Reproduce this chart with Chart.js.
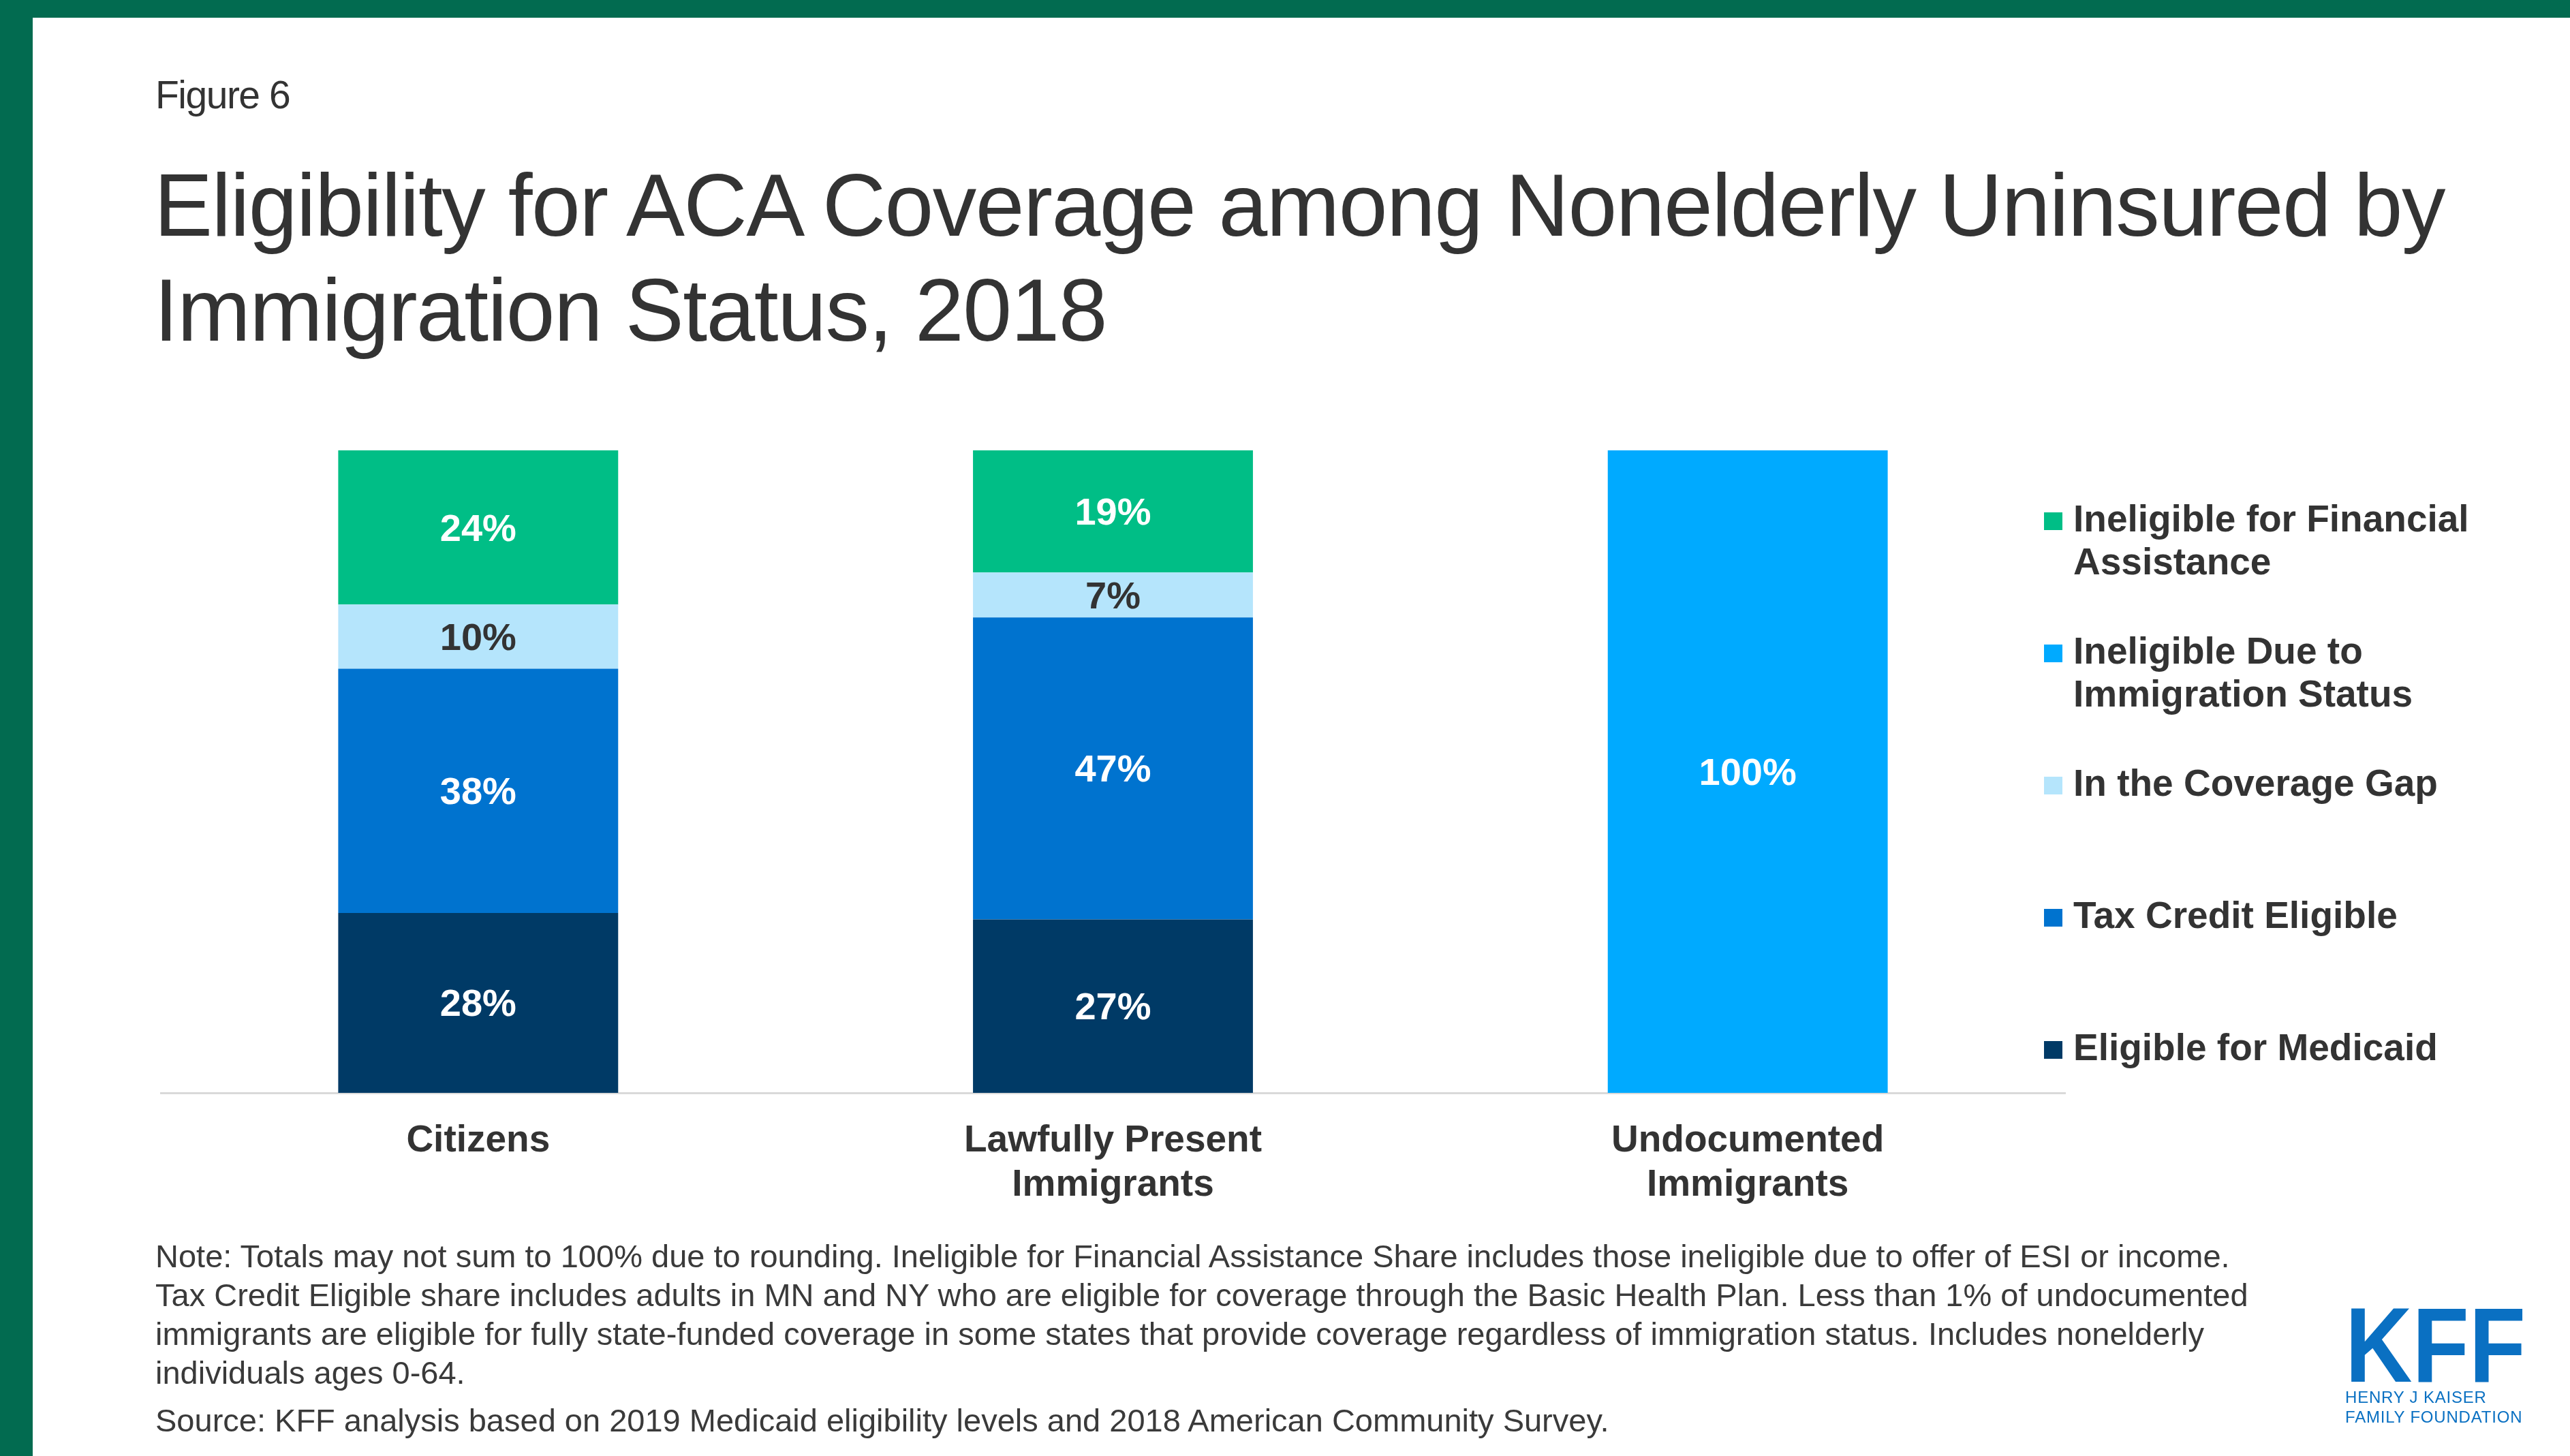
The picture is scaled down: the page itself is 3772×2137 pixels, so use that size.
<!DOCTYPE html>
<html>
<head>
<meta charset="utf-8">
<script src="https://cdn.jsdelivr.net/npm/chart.js@4.4.1/dist/chart.umd.min.js"></script>
<style>
  html, body { margin: 0; padding: 0; background: #fff; }
  body { width: 3772px; height: 2137px; position: relative; overflow: hidden;
         font-family: "Liberation Sans", Arial, sans-serif; color: #333; }
  #topbar { position: absolute; left: 0; top: 0; width: 3772px; height: 26px; background: #026b50; }
  #leftbar { position: absolute; left: 0; top: 0; width: 48px; height: 2137px; background: #026b50; }
  #fig { position: absolute; left: 228px; top: 107px; font-size: 57px; line-height: 64px; letter-spacing: -1.5px; }
  #title { position: absolute; left: 226px; top: 224px; font-size: 129px; line-height: 154px; letter-spacing: -1.5px; white-space: nowrap; }
  #note { position: absolute; left: 228px; top: 1815px; font-size: 47px; line-height: 57px; color: #3a3a3a; white-space: nowrap; }
  #source { position: absolute; left: 228px; top: 2056px; font-size: 47px; line-height: 57px; color: #3a3a3a; white-space: nowrap; }
  #kff { position: absolute; left: 3442px; top: 1888px; font-size: 155px; line-height: 173px; font-weight: bold;
         color: #0a70c2; transform: scaleX(0.88); transform-origin: left top; }
  .kffsub { position: absolute; left: 3442px; font-size: 24px; line-height: 27px; color: #0a70c2; letter-spacing: 0.8px; white-space: nowrap; }
  #chart { position: absolute; left: 0; top: 0; }
</style>
</head>
<body>
<div id="topbar"></div>
<div id="leftbar"></div>
<div id="fig">Figure 6</div>
<div id="title">Eligibility for ACA Coverage among Nonelderly Uninsured by<br>Immigration Status, 2018</div>
<canvas id="chart" width="3772" height="2137"></canvas>
<div id="note">Note: Totals may not sum to 100% due to rounding. Ineligible for Financial Assistance Share includes those ineligible due to offer of ESI or income.<br>Tax Credit Eligible share includes adults in MN and NY who are eligible for coverage through the Basic Health Plan. Less than 1% of undocumented<br>immigrants are eligible for fully state-funded coverage in some states that provide coverage regardless of immigration status. Includes nonelderly<br>individuals ages 0-64.</div>
<div id="source">Source: KFF analysis based on 2019 Medicaid eligibility levels and 2018 American Community Survey.</div>
<div id="kff">KFF</div>
<div class="kffsub" style="top:2037px">HENRY J KAISER</div>
<div class="kffsub" style="top:2066px">FAMILY FOUNDATION</div>
<script>
// categories (multi-line tick labels)
const categories = [['Citizens'], ['Lawfully Present', 'Immigrants'], ['Undocumented', 'Immigrants']];

// series values, % of nonelderly uninsured
const eligibleMedicaid = [28, 27, 0];
const taxCreditEligible = [38, 47, 0];
const coverageGap = [10, 7, 0];
const ineligibleImmigration = [0, 0, 100];
const ineligibleFinancial = [24, 19, 0];

const seriesNames = [
  'Eligible for Medicaid',
  'Tax Credit Eligible',
  'In the Coverage Gap',
  'Ineligible Due to\nImmigration Status',
  'Ineligible for Financial\nAssistance'
];

const FONT = '"Liberation Sans", Arial, sans-serif';

// value labels inside each segment
const barLabels = {
  id: 'barLabels',
  afterDatasetsDraw(chart) {
    const ctx = chart.ctx;
    ctx.save();
    ctx.font = 'bold 56px ' + FONT;
    ctx.textAlign = 'center';
    ctx.textBaseline = 'middle';
    chart.data.datasets.forEach((ds, i) => {
      chart.getDatasetMeta(i).data.forEach((bar, j) => {
        const v = ds.data[j];
        if (!v) return;
        const p = bar.getProps(['x', 'y', 'base'], true);
        ctx.fillStyle = ds.labelColor;
        ctx.fillText(v + '%', p.x, (p.y + p.base) / 2 + 4);
      });
    });
    ctx.restore();
  }
};

// legend on the right, top item = top of stack
const sideLegend = {
  id: 'sideLegend',
  afterDraw(chart) {
    const {ctx, chartArea} = chart;
    const x0 = chartArea.right - 31;
    ctx.save();
    ctx.font = 'bold 55px ' + FONT;
    ctx.textAlign = 'left';
    ctx.textBaseline = 'middle';
    chart.data.datasets.slice().reverse().forEach((d, k) => {
      const yc = chartArea.top + 104 + k * 194;
      ctx.fillStyle = d.backgroundColor;
      ctx.fillRect(x0, yc - 13, 27, 26);
      ctx.fillStyle = '#333';
      d.label.split('\n').forEach((line, n) => ctx.fillText(line, x0 + 43, yc + n * 63));
    });
    ctx.restore();
  }
};

const ctx = document.getElementById('chart').getContext('2d');
new Chart(ctx, {
  type: 'bar',
  data: {
    labels: categories,
    datasets: [
      { label: seriesNames[0], data: eligibleMedicaid, backgroundColor: '#003a66', labelColor: '#fff' },
      { label: seriesNames[1], data: taxCreditEligible, backgroundColor: '#0073cf', labelColor: '#fff' },
      { label: seriesNames[2], data: coverageGap, backgroundColor: '#b5e5fc', labelColor: '#333' },
      { label: seriesNames[3], data: ineligibleImmigration, backgroundColor: '#00aaff', labelColor: '#fff' },
      { label: seriesNames[4], data: ineligibleFinancial, backgroundColor: '#00be86', labelColor: '#fff' }
    ]
  },
  options: {
    responsive: false,
    animation: false,
    devicePixelRatio: 1,
    layout: { padding: { left: 236, right: 741, top: 661, bottom: 333 } },
    datasets: { bar: { barPercentage: 0.441, categoryPercentage: 1, borderWidth: 0 } },
    plugins: { legend: { display: false }, tooltip: { enabled: false } },
    scales: {
      x: {
        stacked: true,
        grid: { display: false },
        border: { display: true, color: '#d9d9d9', width: 3 },
        ticks: { color: '#333', padding: 30, font: { family: FONT, size: 55, weight: 'bold', lineHeight: 1.18 } },
        afterFit(scale) { scale.height = 200; }
      },
      y: { stacked: true, display: false, min: 0, max: 100 }
    }
  },
  plugins: [barLabels, sideLegend]
});
</script>
</body>
</html>
